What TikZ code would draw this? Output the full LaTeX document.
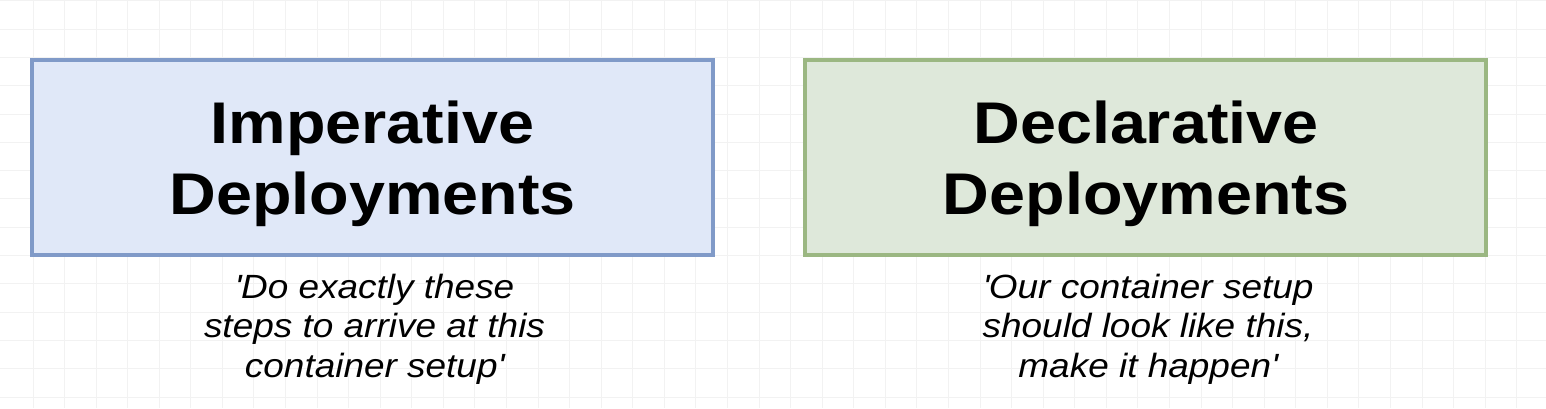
\documentclass[tikz,border=0pt]{standalone}
\usepackage{fontspec}
\setmainfont{Liberation Sans}[FakeStretch=1.1]
\definecolor{blueFill}{RGB}{224,232,248}
\definecolor{blueLine}{RGB}{128,154,200}
\definecolor{greenFill}{RGB}{222,232,218}
\definecolor{greenLine}{RGB}{155,183,130}
\definecolor{gridCol}{RGB}{242,242,242}
\tikzset{
  panel/.style={draw, line width=4pt, minimum width=681pt, minimum height=195pt, inner sep=0pt},
  impbox/.style={panel, draw=blueLine, fill=blueFill},
  decbox/.style={panel, draw=greenLine, fill=greenFill},
  titleline/.style={anchor=base, inner sep=0pt, font=\fontsize{58.8}{70}\selectfont\bfseries},
  subline/.style={anchor=base, inner sep=0pt, font=\fontsize{33.6}{39}\selectfont\itshape},
}
\newcommand{\sq}{\textquotesingle}
\begin{document}
\begin{tikzpicture}[x=1pt,y=-1pt]
\useasboundingbox (0,0) rectangle (1546,408);
\fill[white] (0,0) rectangle (1546,408);
% grid
\foreach \k in {0,...,48} {\draw[gridCol, line width=1pt] ({33+31.57*\k},0) -- ({33+31.57*\k},408);}
\foreach \k in {0,...,14} {\draw[gridCol, line width=1pt] (0,{397-28.3*\k}) -- (1546,{397-28.3*\k});}
% boxes
\node[impbox] (imp) at (372.5,157.5) {};
\node[decbox] (dec) at (1145.5,157.5) {};
% titles
\node[titleline] (impT1) at (372.5,143.5) {Imperative};
\node[titleline] (impT2) at (372.5,214) {Deployments};
\node[titleline] (decT1) at (1146,143.5) {Declarative};
\node[titleline] (decT2) at (1146,214) {Deployments};
% subtitles
\node[subline] (impS1) at (374.5,298) {\sq Do exactly these};
\node[subline] (impS2) at (374.5,337.5) {steps to arrive at this};
\node[subline] (impS3) at (374.5,377) {container setup\sq};
\node[subline] (decS1) at (1148,298) {\sq Our container setup};
\node[subline] (decS2) at (1148,337.5) {should look like this,};
\node[subline] (decS3) at (1148,377) {make it happen\sq};
\end{tikzpicture}
\end{document}
